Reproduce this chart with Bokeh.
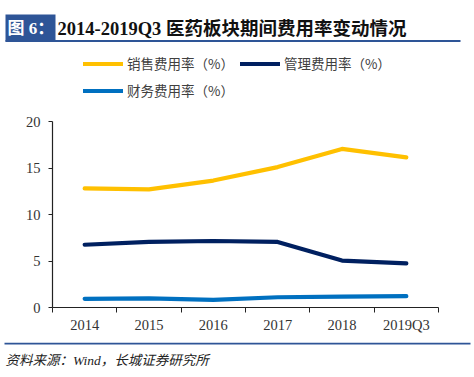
from bokeh.plotting import figure
from bokeh.models import FixedTicker, Legend, LegendItem, Range1d
from bokeh.core.properties import value
from bokeh.embed import file_html
from bokeh.resources import INLINE

# ---- data ----
years = ["2014", "2015", "2016", "2017", "2018", "2019Q3"]
sales_rate = [12.8, 12.7, 13.65, 15.1, 17.05, 16.15]
admin_rate = [6.75, 7.05, 7.15, 7.05, 5.05, 4.75]
finance_rate = [0.93, 0.98, 0.82, 1.1, 1.17, 1.22]
y_ticks = [0, 5, 10, 15, 20]
series_names = ["销售费用率（%）", "管理费用率（%）", "财务费用率（%）"]
fig_label = "图 6："
title_text = "2014-2019Q3 医药板块期间费用率变动情况"
source_text = "资料来源：Wind，长城证券研究所"

# ---- styles / layout (pixels) ----
YELLOW = "#FFC000"
NAVY = "#002060"
BLUE = "#0070C0"
HEAD_BLUE = "#2E5597"
SERIF_CJK = "'Liberation Serif', 'Noto Sans CJK SC'"
colors = [YELLOW, NAVY, BLUE]
W, H = 474, 377
PLOT_L, PLOT_R, PLOT_T, PLOT_B = 52, 438, 121, 307
Y_MIN, Y_MAX = 0, 20

n = len(years)
ppx = (PLOT_R - PLOT_L) / n
ppy = (PLOT_B - PLOT_T) / (Y_MAX - Y_MIN)
x_pos = [i + 0.5 for i in range(n)]

p = figure(width=W, height=H, output_backend="svg", toolbar_location=None,
           x_range=Range1d(-PLOT_L / ppx, n + (W - PLOT_R) / ppx),
           y_range=Range1d(Y_MIN - (H - PLOT_B) / ppy, Y_MAX + PLOT_T / ppy),
           min_border=0)
p.min_border_left = p.min_border_right = p.min_border_top = p.min_border_bottom = 0
p.title.visible = False
p.outline_line_color = None
p.grid.visible = False
p.background_fill_color = "white"
p.border_fill_color = "white"
p.extra_x_ranges = {"px": Range1d(0, W)}
p.extra_y_ranges = {"px": Range1d(H, 0)}

renderers = []
for vals, c in zip([sales_rate, admin_rate, finance_rate], colors):
    renderers.append(p.line(x_pos, vals, line_color=c, line_width=4.2,
                            line_cap="round", line_join="round"))

# x axis: labels at category centres, ticks at category boundaries
xa = p.xaxis[0]
xa.fixed_location = 0
xa.bounds = (0, n)
xa.ticker = FixedTicker(ticks=x_pos, minor_ticks=list(range(n + 1)))
xa.major_label_overrides = {x: y for x, y in zip(x_pos, years)}
xa.major_tick_line_color = None
xa.minor_tick_line_color = "#222222"
xa.minor_tick_out = 5
xa.minor_tick_in = 0
xa.axis_line_color = "#222222"
xa.axis_line_width = 1.2
xa.major_label_text_font = "Liberation Serif"
xa.major_label_text_font_size = "14.5px"
xa.major_label_text_color = "#333333"
xa.major_label_standoff = 3

ya = p.yaxis[0]
ya.fixed_location = 0
ya.bounds = (Y_MIN, Y_MAX)
ya.ticker = FixedTicker(ticks=y_ticks, minor_ticks=[])
ya.major_tick_out = 4
ya.major_tick_in = 0
ya.major_tick_line_color = "#222222"
ya.axis_line_color = "#222222"
ya.axis_line_width = 1.2
ya.major_label_text_font = "Liberation Serif"
ya.major_label_text_font_size = "14.5px"
ya.major_label_text_color = "#333333"
ya.major_label_standoff = 8

# legend (frame-relative screen position of its bottom-left corner)
legend = Legend(items=[LegendItem(label=nm, renderers=[r]) for nm, r in zip(series_names, renderers)],
                orientation="horizontal", ncols=2,
                location=(83, H - 100.5), padding=0, margin=0, spacing=6,
                glyph_width=40, glyph_height=21, label_height=21, label_standoff=4,
                label_text_font="Noto Sans CJK SC", label_text_font_size="13.5px",
                label_text_color="#404040", border_line_color=None, background_fill_alpha=0)
p.add_layout(legend, "center")

# header / footer decorations in pixel coordinates
px = dict(x_range_name="px", y_range_name="px")
p.quad(left=[5], right=[55], top=[14], bottom=[41], fill_color=HEAD_BLUE, line_color=None, **px)
p.quad(left=[5], right=[460], top=[39.5], bottom=[41.5], fill_color=HEAD_BLUE, line_color=None, **px)
p.quad(left=[4], right=[470], top=[342.3], bottom=[344], fill_color=HEAD_BLUE, line_color=None, **px)
p.text(x=[7], y=[28], text=[fig_label], text_font=value(SERIF_CJK), text_font_style="bold",
       text_font_size="17px", text_color="white", text_baseline="middle", **px)
p.text(x=[57], y=[28], text=[title_text], text_font=value(SERIF_CJK), text_font_style="bold",
       text_font_size="18.5px", text_color="#111111", text_baseline="middle", **px)
p.text(x=[5], y=[360], text=[source_text], text_font=value(SERIF_CJK), text_font_style="italic",
       text_font_size="13.5px", text_color="#222222", text_baseline="middle", **px)

open("out.html", "w").write(file_html(p, INLINE))
